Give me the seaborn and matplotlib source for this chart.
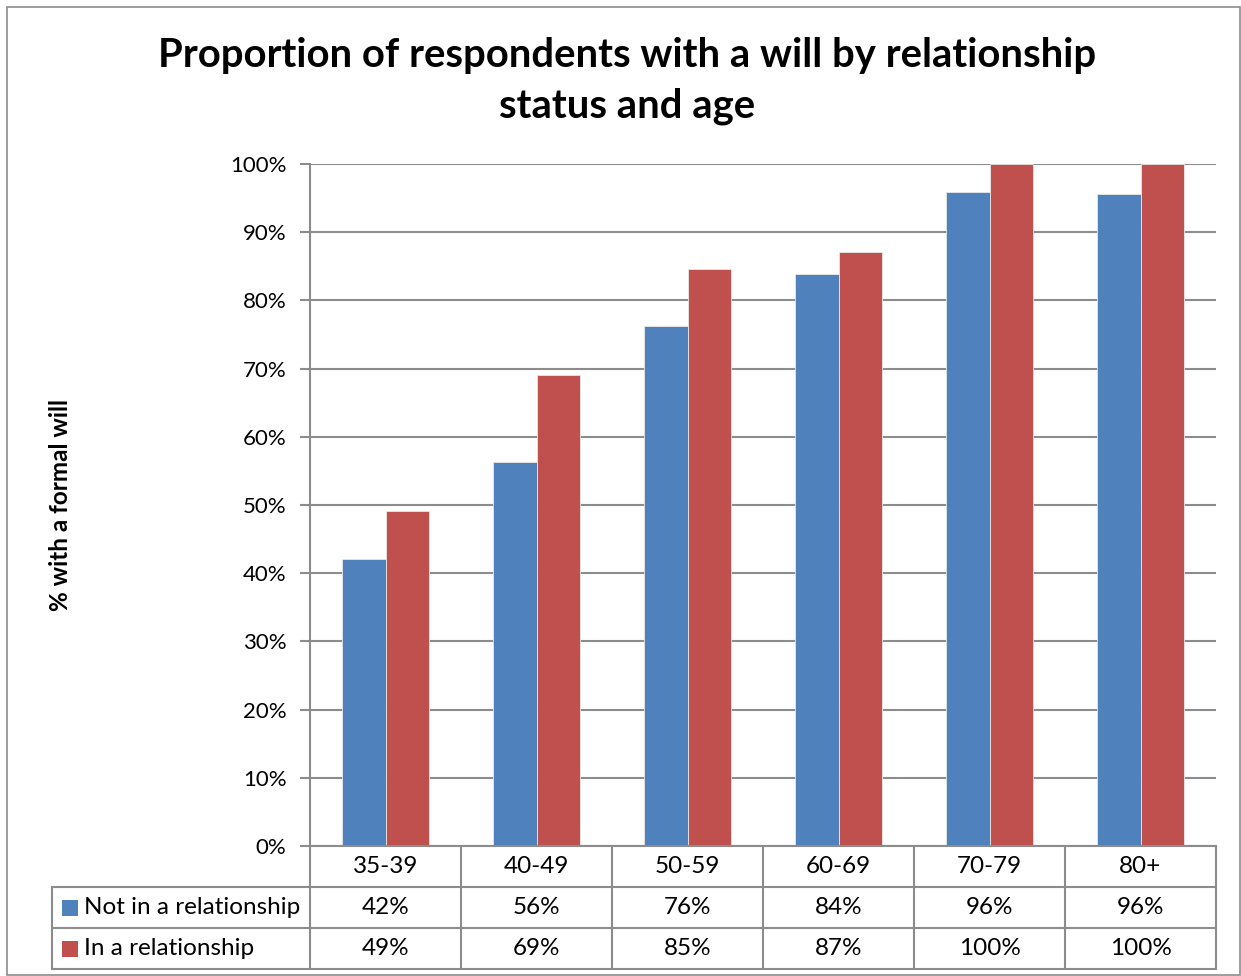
import matplotlib
matplotlib.use("Agg")
import matplotlib.pyplot as plt
import matplotlib.transforms as mtransforms
from matplotlib.lines import Line2D
from matplotlib.patches import Rectangle
import seaborn as sns
import pandas as pd

# Data
age_groups = ["35-39", "40-49", "50-59", "60-69", "70-79", "80+"]
series_names = ["Not in a relationship", "In a relationship"]
not_in_relationship = [42.1, 56.3, 76.2, 83.9, 95.9, 95.6]
in_relationship = [49.1, 69.1, 84.6, 87.1, 100.0, 100.0]
y_ticks = [0, 10, 20, 30, 40, 50, 60, 70, 80, 90, 100]

title = "Proportion of respondents with a will by relationship\nstatus and age"
y_label = "% with a formal will"

colors = ["#4F81BD", "#C0504D"]
grid_color = "#8C8C8C"
font = ["Lato", "DejaVu Sans"]

df = pd.DataFrame({
    "age": age_groups * 2,
    "value": not_in_relationship + in_relationship,
    "status": [series_names[0]] * len(age_groups) + [series_names[1]] * len(age_groups),
})

sns.set_theme(style="white")
plt.rcParams["font.family"] = font
plt.rcParams["text.color"] = "black"
plt.rcParams["ytick.labelcolor"] = "black"

W, H = 1241, 976
fig = plt.figure(figsize=(W / 100, H / 100), dpi=100)

def fx(px):
    return px / W

def fy(py):
    return 1 - py / H

ax_left, ax_right, ax_top, ax_bottom = 310, 1216, 164, 846
ax = fig.add_axes([fx(ax_left), fy(ax_bottom), fx(ax_right - ax_left), (ax_bottom - ax_top) / H])

sns.barplot(data=df, x="age", y="value", hue="status", palette=colors,
            width=0.575, dodge=True, ax=ax, legend=False,
            edgecolor="#E8E8E8", linewidth=0.6, saturation=1)

ax.set_ylim(0, 100)
ax.set_xlim(-0.5, len(age_groups) - 0.5)
ax.set_yticks(y_ticks)
ax.set_yticklabels([f"{t}%" for t in y_ticks], fontsize=16, color="black")
ax.set_xticks([])
ax.set_xlabel("")
ax.set_ylabel("")
ax.yaxis.grid(True, color=grid_color, linewidth=1.5)
ax.set_axisbelow(True)
ax.tick_params(axis="y", which="major", direction="out", length=7, width=1.5,
               color=grid_color, pad=10, left=True)
for side in ["top", "right"]:
    ax.spines[side].set_visible(False)
for side in ["left", "bottom"]:
    ax.spines[side].set_color(grid_color)
    ax.spines[side].set_linewidth(1.5)

# Title and axis label
fig.text(fx(627), fy(81), title, ha="center", va="center", fontsize=28.8,
         fontweight="bold", linespacing=1.42, color="black")
fig.text(fx(60), fy(505), y_label, ha="center", va="center", rotation=90,
         fontsize=17.5, fontweight="bold", color="black")

# Data table below the plot
blend = mtransforms.blended_transform_factory(ax.transData, fig.transFigure)
row_edges = [846, 887, 928, 969]
n = len(age_groups)
line_kw = dict(color=grid_color, linewidth=1.5)
table_fs = 17.5

# horizontal lines
for r in row_edges[1:]:
    fig.add_artist(Line2D([fx(52), fx(ax_left)], [fy(r), fy(r)], transform=fig.transFigure, **line_kw))
    fig.add_artist(Line2D([-0.5, n - 0.5], [fy(r), fy(r)], transform=blend, **line_kw))
# vertical lines
for i in range(n + 1):
    fig.add_artist(Line2D([i - 0.5, i - 0.5], [fy(row_edges[0]), fy(row_edges[-1])], transform=blend, **line_kw))
fig.add_artist(Line2D([fx(52), fx(52)], [fy(row_edges[1]), fy(row_edges[-1])], transform=fig.transFigure, **line_kw))

# header row: age groups
for i, age in enumerate(age_groups):
    fig.text(i, fy((row_edges[0] + row_edges[1]) / 2), age, transform=blend,
             ha="center", va="center", fontsize=table_fs, color="black")

# series rows with legend keys
for r, (name, vals, col) in enumerate(zip(series_names, [not_in_relationship, in_relationship], colors)):
    yc = (row_edges[r + 1] + row_edges[r + 2]) / 2
    fig.add_artist(Rectangle((fx(62), fy(yc + 8)), fx(16), 16 / H,
                             transform=fig.transFigure, facecolor=col, edgecolor="none"))
    fig.text(fx(84), fy(yc), name, ha="left", va="center", fontsize=table_fs, color="black")
    for i, v in enumerate(vals):
        fig.text(i, fy(yc), f"{round(v):.0f}%", transform=blend,
                 ha="center", va="center", fontsize=table_fs, color="black")

# chart border
fig.add_artist(Rectangle((fx(7), fy(975)), fx(1240 - 7), (975 - 7) / H,
                         transform=fig.transFigure, fill=False,
                         edgecolor=grid_color, linewidth=1.2))

fig.savefig("out.png", dpi=100)
